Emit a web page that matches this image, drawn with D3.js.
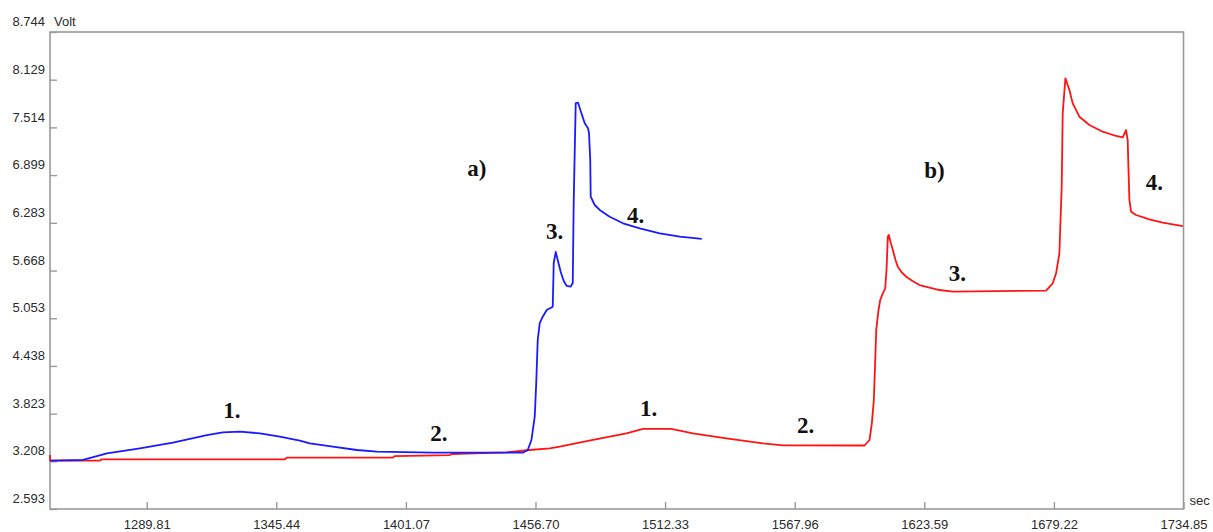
<!DOCTYPE html>
<html>
<head>
<meta charset="utf-8">
<script src="https://cdn.jsdelivr.net/npm/d3@7"></script>
<style>
  body { margin: 0; background: #fff; }
  svg { display: block; }
</style>
</head>
<body>
<svg id="chart" width="1213" height="532"></svg>
<script>
// Axis ticks (recorder scale, seconds / volts)
const xTickLabels = ["1289.81", "1345.44", "1401.07", "1456.70", "1512.33", "1567.96", "1623.59", "1679.22", "1734.85"];
const yTickLabels = ["2.593", "3.208", "3.823", "4.438", "5.053", "5.668", "6.283", "6.899", "7.514", "8.129", "8.744"];
const xDomain = [1248.31, 1734.85];
const yDomain = [2.593, 8.744];

// Run a) – blue trace
const timeA = [1248.31, 1262.47, 1272.76, 1286.92, 1301.08, 1315.66, 1322.53, 1329.82, 1338.40, 1346.98,
  1355.56, 1359.85, 1369.72, 1380.01, 1388.59, 1412.62, 1451.23, 1453.37, 1454.96, 1456.38,
  1457.02, 1457.66, 1458.52, 1459.81, 1461.53, 1464.10, 1464.53, 1465.39, 1466.25, 1467.54,
  1468.82, 1470.11, 1471.83, 1472.69, 1473.12, 1473.97, 1474.96, 1476.42, 1477.84, 1479.25,
  1479.68, 1480.20, 1480.40, 1482.12, 1484.26, 1488.55, 1494.26, 1501.47, 1510.05, 1518.63, 1528.07];
const voltA = [3.216, 3.225, 3.311, 3.376, 3.448, 3.547, 3.582, 3.590, 3.569, 3.525,
  3.474, 3.440, 3.396, 3.354, 3.332, 3.319, 3.319, 3.354, 3.483, 3.783,
  4.218, 4.772, 4.991, 5.073, 5.159, 5.202, 5.765, 5.907, 5.804, 5.649,
  5.533, 5.469, 5.460, 5.507, 6.578, 7.828, 7.832, 7.695, 7.567, 7.502,
  7.438, 7.093, 6.620, 6.513, 6.449, 6.362, 6.277, 6.213, 6.148, 6.104, 6.075];

// Run b) – red trace
const timeB = [1248.31, 1248.40, 1269.76, 1270.49, 1349.13, 1349.98, 1395.46, 1396.32, 1419.91, 1420.77,
  1444.36, 1454.23, 1462.81, 1467.10, 1481.39, 1495.72, 1502.85, 1515.03, 1524.29, 1538.62,
  1554.33, 1562.90, 1597.94, 1600.08, 1601.07, 1601.93, 1602.53, 1602.96, 1603.94, 1604.67,
  1605.79, 1606.82, 1607.38, 1607.93, 1608.36, 1609.09, 1610.08, 1611.23, 1612.22, 1613.80,
  1615.83, 1618.52, 1621.53, 1630.11,
  1635.82, 1675.87, 1678.70, 1680.16, 1681.58, 1682.01, 1682.57, 1683.00, 1684.16, 1685.88,
  1687.30, 1690.17, 1694.46, 1700.17, 1705.92, 1708.75, 1710.21, 1710.90, 1711.20, 1711.63,
  1712.36, 1714.50, 1720.21, 1725.91, 1734.58];
const voltB = [3.289, 3.216, 3.218, 3.234, 3.234, 3.255, 3.255, 3.276, 3.289, 3.302,
  3.324, 3.354, 3.376, 3.396, 3.483, 3.569, 3.625, 3.625, 3.569, 3.505,
  3.440, 3.414, 3.412, 3.483, 3.698, 3.999, 4.514, 4.901, 5.159, 5.288,
  5.374, 5.439, 5.675, 6.104, 6.126, 6.036, 5.933, 5.804, 5.717, 5.649,
  5.588, 5.533, 5.481, 5.417,
  5.395, 5.410, 5.503, 5.632, 5.890, 6.277, 6.749, 7.695, 8.147, 7.996,
  7.824, 7.652, 7.545, 7.458, 7.403, 7.386, 7.480, 7.351, 7.007, 6.578,
  6.427, 6.384, 6.329, 6.285, 6.242];

// Stage markers
const noteText = ["1.", "2.", "3.", "4.", "a)", "1.", "2.", "3.", "4.", "b)"];
const noteTime = [1326.39, 1415.19, 1464.95, 1499.70, 1431.49, 1505.28, 1572.63, 1637.84, 1722.36, 1627.98];
const noteVolt = [3.857, 3.573, 6.169, 6.384, 6.990, 3.895, 3.676, 5.636, 6.797, 6.964];

const frame = { left: 50, right: 1183.5, top: 32, bottom: 509 };
const axisGrey = "#9a9a9a";
const labelColor = "#2b2b2b";

const svg = d3.select("#chart");

const x = d3.scaleLinear().domain(xDomain).range([frame.left, frame.right]);
const y = d3.scaleLinear().domain(yDomain).range([frame.bottom, frame.top]);

// Plot frame
svg.append("rect")
  .attr("x", frame.left).attr("y", frame.top)
  .attr("width", frame.right - frame.left)
  .attr("height", frame.bottom - frame.top)
  .attr("fill", "#fff")
  .attr("stroke", axisGrey)
  .attr("stroke-width", 1.6);

// Y axis: inward ticks, labels sitting just above each tick
const yAxis = d3.axisLeft(y)
  .tickValues(yTickLabels.map(Number))
  .tickFormat((d, i) => yTickLabels[i])
  .tickSizeInner(-7)
  .tickSizeOuter(0)
  .tickPadding(5);

const gy = svg.append("g")
  .attr("transform", `translate(${frame.left},0)`)
  .call(yAxis);
gy.select(".domain").remove();
gy.selectAll(".tick line").attr("stroke", axisGrey).attr("stroke-width", 1.4);
gy.selectAll(".tick text")
  .attr("y", -10.5)
  .attr("fill", labelColor)
  .style("font", "13px 'Liberation Sans', Arial, sans-serif");

// X axis: inward ticks, labels below the frame
const xAxis = d3.axisBottom(x)
  .tickValues(xTickLabels.map(Number))
  .tickFormat((d, i) => xTickLabels[i])
  .tickSizeInner(-7)
  .tickSizeOuter(0)
  .tickPadding(11);

const gx = svg.append("g")
  .attr("transform", `translate(0,${frame.bottom})`)
  .call(xAxis);
gx.select(".domain").remove();
gx.selectAll(".tick line").attr("stroke", axisGrey).attr("stroke-width", 1.4);
gx.selectAll(".tick text")
  .attr("fill", labelColor)
  .style("font", "13px 'Liberation Sans', Arial, sans-serif");

// Unit labels
svg.append("text")
  .attr("x", frame.left + 4).attr("y", frame.top - 6)
  .attr("fill", labelColor)
  .style("font", "13px 'Liberation Sans', Arial, sans-serif")
  .text("Volt");
svg.append("text")
  .attr("x", frame.right + 6).attr("y", frame.bottom - 4)
  .attr("fill", labelColor)
  .style("font", "13px 'Liberation Sans', Arial, sans-serif")
  .text("sec");

// Traces
const line = d3.line()
  .x(d => x(d[0]))
  .y(d => y(d[1]));

const plot = svg.append("g");

plot.append("path")
  .datum(d3.zip(timeB, voltB))
  .attr("d", line)
  .attr("fill", "none")
  .attr("stroke", "#ff1414")
  .attr("stroke-width", 1.8)
  .attr("stroke-linejoin", "round");

plot.append("path")
  .datum(d3.zip(timeA, voltA))
  .attr("d", line)
  .attr("fill", "none")
  .attr("stroke", "#1a1aff")
  .attr("stroke-width", 1.8)
  .attr("stroke-linejoin", "round");

// Stage markers
svg.append("g")
  .selectAll("text")
  .data(d3.range(noteText.length))
  .join("text")
  .attr("x", i => x(noteTime[i]))
  .attr("y", i => y(noteVolt[i]))
  .attr("text-anchor", "middle")
  .attr("dominant-baseline", "central")
  .attr("fill", "#111")
  .style("font", "bold 23px 'Liberation Serif', 'Times New Roman', serif")
  .text(i => noteText[i]);
</script>
</body>
</html>
